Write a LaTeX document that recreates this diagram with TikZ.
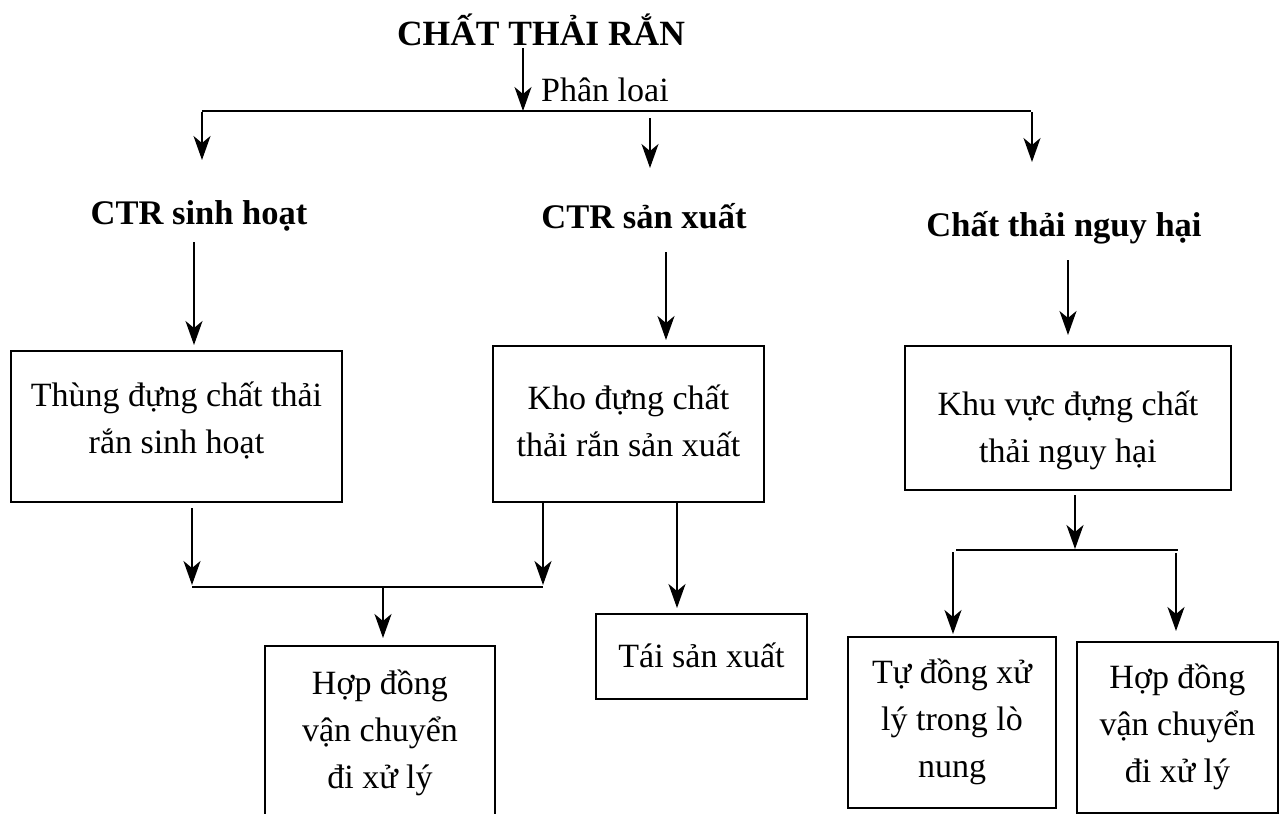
\documentclass[tikz,border=0pt]{standalone}
\usepackage{fontspec}
\setmainfont{Liberation Serif}
\usetikzlibrary{arrows.meta}

\tikzset{
  arr/.style={-{Stealth[length=24pt,width=17pt,inset=7pt]}, line width=2pt},
  thinarr/.style={-{Stealth[length=24pt,width=17pt,inset=7pt]}, line width=1.5pt},
  link/.style={line width=2pt},
  thinlink/.style={line width=1.6pt},
  boxnode/.style={draw, line width=2pt, rectangle, inner sep=0pt},
  boxtext/.style={inner sep=0pt, align=center, font=\fontsize{34}{47}\selectfont},
  headnode/.style={inner sep=0pt, font=\fontsize{34.5}{41}\selectfont\bfseries},
  plain/.style={inner sep=0pt, font=\fontsize{34}{41}\selectfont}
}

\begin{document}
\begin{tikzpicture}[x=1pt,y=-1pt]
\useasboundingbox (0,0) rectangle (1283,814);
\clip (0,0) rectangle (1283,814);

% headings
\node[headnode, font=\fontsize{35.5}{42}\selectfont\bfseries, anchor=base] (title) at (541,45) {CHẤT THẢI RẮN};
\node[plain, anchor=base west] (phanloai) at (541,101) {Phân loai};
\node[headnode, anchor=base] (sh) at (199,224) {CTR sinh hoạt};
\node[headnode, anchor=base] (sx) at (644,228) {CTR sản xuất};
\node[headnode, anchor=base] (nh) at (1064,236) {Chất thải nguy hại};

% boxes
\node[boxnode, minimum width=331pt, minimum height=151pt] (b1) at (176.5,426.5) {};
\node[boxnode, minimum width=271pt, minimum height=156pt] (b2) at (628.5,424) {};
\node[boxnode, minimum width=326pt, minimum height=144pt] (b3) at (1068,418) {};
\node[boxnode, minimum width=230pt, minimum height=174pt] (b4) at (380,733) {};
\node[boxnode, minimum width=211pt, minimum height=85pt] (b5) at (701.5,656.5) {};
\node[boxnode, minimum width=208pt, minimum height=171pt] (b6) at (952,722.5) {};
\node[boxnode, minimum width=201pt, minimum height=171pt] (b7) at (1177.5,727.5) {};

% box texts
\node[boxtext] (b1t) at (176.5,420) {Thùng đựng chất thải\\rắn sinh hoạt};
\node[boxtext] (b2t) at (628.5,421) {Kho đựng chất\\thải rắn sản xuất};
\node[boxtext] (b3t) at (1068,430) {Khu vực đựng chất\\thải nguy hại};
\node[boxtext] (b4t) at (380,733) {Hợp đồng\\vận chuyển\\đi xử lý};
\node[boxtext] (b5t) at (701.5,655.5) {Tái sản xuất};
\node[boxtext] (b6t) at (952,721.5) {Tự đồng xử\\lý trong lò\\nung};
\node[boxtext] (b7t) at (1177.5,726.5) {Hợp đồng\\vận chuyển\\đi xử lý};

% junction points of the branching lines
\coordinate (t0) at (523,48);
\coordinate (tj) at (523,111);
\coordinate (hl) at (202,111);
\coordinate (hr) at (1031,111);
\coordinate (d1a) at (202,112);   \coordinate (d1b) at (202,160);
\coordinate (d2a) at (650,118);   \coordinate (d2b) at (650,168);
\coordinate (d3a) at (1032,112);  \coordinate (d3b) at (1032,162);

\coordinate (s1a) at (194,242);   \coordinate (s1b) at (194,345);
\coordinate (s2a) at (666,252);   \coordinate (s2b) at (666,340);
\coordinate (s3a) at (1068,260);  \coordinate (s3b) at (1068,335);

\coordinate (m1a) at (192,508);   \coordinate (m1b) at (192,585);
\coordinate (m2a) at (543,502);   \coordinate (m2b) at (543,585);
\coordinate (ml) at (192,587);    \coordinate (mr) at (543,587);
\coordinate (mda) at (383,587);   \coordinate (mdb) at (383,638);

\coordinate (p1a) at (677,502);   \coordinate (p1b) at (677,608);

\coordinate (q0a) at (1075,495);  \coordinate (q0b) at (1075,549);
\coordinate (ql) at (956,550);    \coordinate (qr) at (1178,550);
\coordinate (q1a) at (953,552);   \coordinate (q1b) at (953,634);
\coordinate (q2a) at (1176,553);  \coordinate (q2b) at (1176,631);

% classification branch
\draw[thinarr] (t0) -- (tj);
\draw[thinlink] (hl) -- (hr);
\draw[thinarr] (d1a) -- (d1b);
\draw[thinarr] (d2a) -- (d2b);
\draw[thinarr] (d3a) -- (d3b);

% from groups to storage
\draw[arr] (s1a) -- (s1b);
\draw[arr] (s2a) -- (s2b);
\draw[arr] (s3a) -- (s3b);

% domestic and production waste to contracted transport
\draw[arr] (m1a) -- (m1b);
\draw[arr] (m2a) -- (m2b);
\draw[link] (ml) -- (mr);
\draw[arr] (mda) -- (mdb);

% production waste reused
\draw[arr] (p1a) -- (p1b);

% hazardous waste handling
\draw[arr] (q0a) -- (q0b);
\draw[link] (ql) -- (qr);
\draw[arr] (q1a) -- (q1b);
\draw[arr] (q2a) -- (q2b);
\end{tikzpicture}
\end{document}
